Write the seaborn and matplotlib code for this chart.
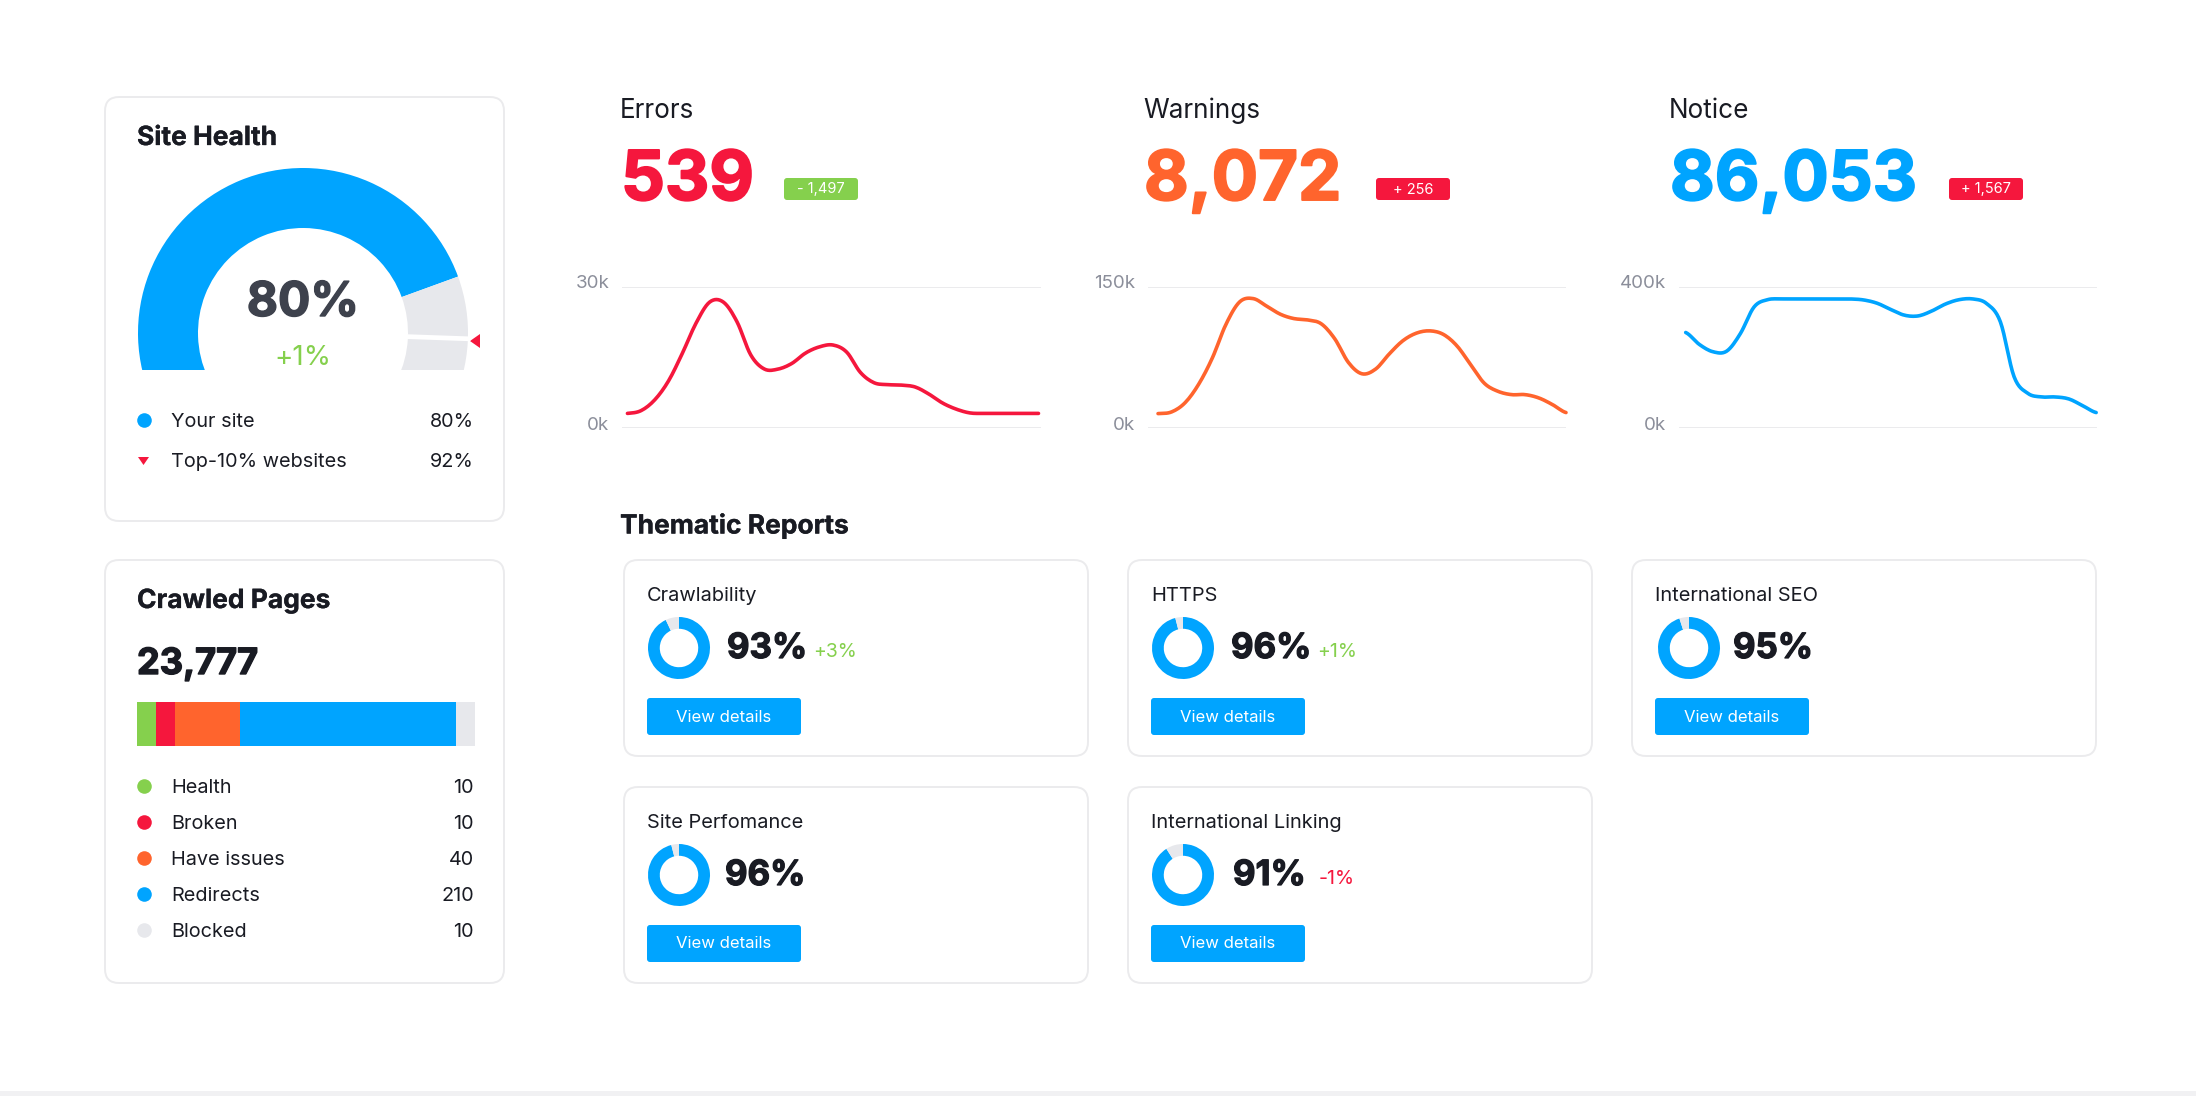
import numpy as np
import pandas as pd
import seaborn as sns
import matplotlib
matplotlib.use("Agg")
import matplotlib.pyplot as plt
import matplotlib.patheffects as pe
from matplotlib.patches import FancyBboxPatch, Rectangle, Polygon
from matplotlib.transforms import ScaledTranslation

# ---------- data ----------
errors_k = [3.2, 3.8, 6.1, 10.1, 15.9, 22.3, 26.8, 26.8, 22.6, 15.6, 12.6, 12.6, 13.8, 16.0, 17.3, 17.7,
            16.2, 11.9, 9.7, 9.3, 9.2, 8.8, 7.3, 5.4, 4.1, 3.3, 3.2, 3.2, 3.2, 3.2, 3.2]
warnings_k = [15.8, 17.6, 27.5, 47.2, 75.0, 110.6, 134.2, 137.7, 129.6, 121.1, 116.5, 115.1, 111.0, 95.0, 70.0,
              58.0, 63.0, 79.0, 93.0, 101.1, 103.5, 99.6, 87.3, 67.3, 47.9, 39.4, 35.9, 35.9, 32.4, 25.4, 16.9]
notice_k = [271.4, 237.6, 216.9, 218.8, 268.6, 343.7, 364.3, 366.2, 366.2, 366.2, 366.2, 366.2, 366.2, 363.4, 354.0,
            336.2, 320.2, 318.3, 332.4, 352.1, 364.3, 366.2, 353.1, 301.4, 146.5, 99.5, 89.2, 89.2, 83.6, 64.8, 45.1]
issue_titles = ["Errors", "Warnings", "Notice"]
issue_totals = ["539", "8,072", "86,053"]
issue_deltas = ["- 1,497", "+ 256", "+ 1,567"]
issue_max_k = [30, 150, 400]

site_score = [80, 20]
legend_site = ["Your site", "Top-10% websites"]
legend_site_vals = ["80%", "92%"]

crawl_labels = ["Health", "Broken", "Have issues", "Redirects", "Blocked"]
crawl_counts = [10, 10, 40, 210, 10]
crawl_bar_share = [5.6, 5.7, 19.2, 63.8, 5.7]

report_names = ["Crawlability", "HTTPS", "International SEO", "Site Perfomance", "International Linking"]
report_scores = [93, 96, 95, 96, 91]
report_deltas = ["+3%", "+1%", "", "", "-1%"]

# ---------- style ----------
BLUE, RED, ORANGE, GREEN, GRAY = "#00a4ff", "#f5173d", "#ff642d", "#85d04d", "#e7e8ec"
INK, MUTED, BORDER = "#191b23", "#8b8e9a", "#ebebed"
W, H = 2196, 1096
GAUGE_DEG_PER_PCT = 2.3125
sns.set_theme(style="white")
plt.rcParams["font.family"] = ["Inter", "DejaVu Sans"]

fig = plt.figure(figsize=(W / 100, H / 100), dpi=100, facecolor="white")
base = fig.add_axes([0, 0, 1, 1], zorder=0)
base.set_xlim(0, W); base.set_ylim(H, 0); base.axis("off")


def axes_px(x0, y0, x1, y1, **kw):
    ax = fig.add_axes([x0 / W, 1 - y1 / H, (x1 - x0) / W, (y1 - y0) / H], zorder=1, **kw)
    ax.patch.set_alpha(0)
    return ax


def box(x0, y0, x1, y1, r, fc="white", ec="none", lw=0):
    base.add_patch(FancyBboxPatch((x0 + r, y0 + r), x1 - x0 - 2 * r, y1 - y0 - 2 * r,
                                  boxstyle=f"round,pad={r},rounding_size={r}", fc=fc, ec=ec, lw=lw))


def text(x, y, s, size, color=INK, weight="normal", ha="left", va="center", stroke=0):
    t = base.text(x, y, s, fontsize=size, color=color, fontweight=weight, ha=ha, va=va)
    if stroke:
        t.set_path_effects([pe.withStroke(linewidth=stroke, foreground=color)])


def curve(values, per_segment=8):
    """Rounded line through the read values, the way the chart's smooth line passes through them."""
    v = np.asarray(values, float)
    p = np.r_[v[0], v, v[-1]]
    xs, ys = [], []
    for k in range(len(v) - 1):
        t = np.arange(per_segment) / per_segment
        a, b, c, d = p[k], p[k + 1], p[k + 2], p[k + 3]
        ys.append(0.5 * (2 * b + (c - a) * t + (2 * a - 5 * b + 4 * c - d) * t ** 2 + (3 * b - a - 3 * c + d) * t ** 3))
        xs.append(k + t)
    return np.r_[np.concatenate(xs), len(v) - 1], np.r_[np.concatenate(ys), v[-1]]


base.add_patch(Rectangle((0, 1091), W, 5, fc="#f1f1f3", ec="none"))

# ---------- site health ----------
box(105, 97, 504, 521, 14, ec=BORDER, lw=1.4)
text(137, 138, "Site Health", 19, weight="bold", stroke=0.2)
g = axes_px(133, 163, 473, 370)
g.pie([s * GAUGE_DEG_PER_PCT / 360 for s in site_score], colors=[BLUE, GRAY], startangle=205, counterclock=False,
      radius=165, normalize=False, wedgeprops=dict(width=60, linewidth=0, clip_on=True))
g.set_xlim(-170, 170); g.set_ylim(-37, 170); g.set_aspect("auto")
mark = np.deg2rad(-2)
g.plot([100 * np.cos(mark), 166 * np.cos(mark)], [100 * np.sin(mark), 166 * np.sin(mark)], color="white", lw=3.4)
base.add_patch(Polygon([[470, 341], [480, 334], [480, 348]], closed=True, fc=RED, ec="none", zorder=5))
text(303, 316, "80%", 34.5, color="#3e424d", weight="bold", ha="center", va="baseline", stroke=1.0)
text(303, 358, "+1%", 20, color=GREEN, ha="center")
base.scatter([144], [420], s=110, color=BLUE, linewidths=0, zorder=5)
base.add_patch(Polygon([[138, 457], [149, 457], [143.5, 465]], closed=True, fc=RED, ec="none", zorder=5))
for yy, lab, val in zip([422, 462], legend_site, legend_site_vals):
    text(171, yy, lab, 14.3)
    text(474, yy, val, 14.3, ha="right")

# ---------- crawled pages ----------
box(105, 560, 504, 983, 14, ec=BORDER, lw=1.4)
text(137, 601, "Crawled Pages", 19, weight="bold", stroke=0.2)
text(137, 674, "23,777", 26, weight="bold", va="baseline", stroke=1.0)
bar = axes_px(137, 702, 475, 746)
crawl_colors = [GREEN, RED, ORANGE, BLUE, GRAY]
left = 0
for share, col in zip(crawl_bar_share, crawl_colors):
    bar.barh([0], [share], left=left, height=1, color=col, linewidth=0)
    left += share
bar.set_xlim(0, sum(crawl_bar_share)); bar.set_ylim(-0.5, 0.5); bar.axis("off")
for i, (lab, val, col) in enumerate(zip(crawl_labels, crawl_counts, crawl_colors)):
    yy = 788 + 36 * i
    base.scatter([144], [yy - 2], s=110, color=col, linewidths=0)
    text(171, yy, lab, 14.3)
    text(474, yy, str(val), 14.3, ha="right")

# ---------- issue trend charts ----------
chart_x = [(622, 1041), (1148, 1566), (1679, 2097)]
line_inset = [(0.013, 0.006), (0.024, 0.0), (0.016, 0.002)]
head_x = [620, 1143, 1669]
badge_x = [(784, 858), (1376, 1450), (1949, 2023)]
series = [errors_k, warnings_k, notice_k]
cols = [RED, ORANGE, BLUE]
badge_cols = [GREEN, RED, RED]
for i in range(3):
    x0, x1 = chart_x[i]
    ax = axes_px(x0, 287, x1, 428.5)
    sx, sy = curve(series[i])
    df = pd.DataFrame({"sample": sx, "value": sy})
    sns.lineplot(data=df, x="sample", y="value", ax=ax, color=cols[i], linewidth=2.6, errorbar=None, clip_on=False)
    n = len(series[i]) - 1
    l, r = line_inset[i]
    span = n / (1 - l - r)
    ax.set_xlim(-l * span, n + r * span)
    ax.set_ylim(0, issue_max_k[i])
    ax.set_xlabel(""); ax.set_ylabel(""); ax.set_xticks([])
    ax.set_yticks([0, issue_max_k[i]], ["0k", f"{issue_max_k[i]}k"])
    ax.grid(axis="y", color=BORDER, lw=1.4)
    ax.tick_params(axis="y", length=0, pad=9, labelsize=13.5, labelcolor=MUTED)
    for t in ax.get_yticklabels():
        t.set_transform(t.get_transform() + ScaledTranslation(0, 5 / 100, fig.dpi_scale_trans))
    sns.despine(ax=ax, left=True, bottom=True, top=True, right=True)

    text(head_x[i], 111, issue_titles[i], 18.8)
    text(head_x[i] + 1, 200, issue_totals[i], 49.5, color=cols[i], weight="bold", va="baseline", stroke=1.4)
    bx0, bx1 = badge_x[i]
    box(bx0, 178, bx1, 200, 3, fc=badge_cols[i])
    text((bx0 + bx1) / 2, 189.5, issue_deltas[i], 10.5, color="white", ha="center")

# ---------- thematic reports ----------
text(620, 526, "Thematic Reports", 19, weight="bold", stroke=0.2)
card_pos = [(624, 560), (1128, 560), (1632, 560), (624, 787), (1128, 787)]
pct_dx = [103, 103, 101, 101, 105]
delta_dx = [189, 189, 0, 0, 191]
donut_dx = [55, 55, 57, 55, 55]
for i, (cx, cy) in enumerate(card_pos):
    box(cx, cy, cx + 464, cy + 196, 14, ec=BORDER, lw=1.4)
    text(cx + 23, cy + 36, report_names[i], 14.4)
    dcx, dcy = cx + donut_dx[i], cy + 88
    d = axes_px(dcx - 33, dcy - 33, dcx + 33, dcy + 33)
    d.pie([report_scores[i], 100 - report_scores[i]], colors=[BLUE, GRAY], startangle=90, counterclock=False,
          radius=1, wedgeprops=dict(width=0.38, linewidth=0))
    d.set_xlim(-33 / 31, 33 / 31); d.set_ylim(-33 / 31, 33 / 31)
    text(cx + pct_dx[i], cy + 98, f"{report_scores[i]}%", 25, weight="bold", va="baseline", stroke=0.9)
    if report_deltas[i]:
        text(cx + delta_dx[i], cy + 92, report_deltas[i], 14, color=GREEN if report_deltas[i][0] == "+" else RED)
    box(cx + 23, cy + 138, cx + 177, cy + 175, 3, fc=BLUE)
    text(cx + 100, cy + 157, "View details", 12, color="white", ha="center")

fig.savefig("out.png", dpi=100, facecolor="white")
